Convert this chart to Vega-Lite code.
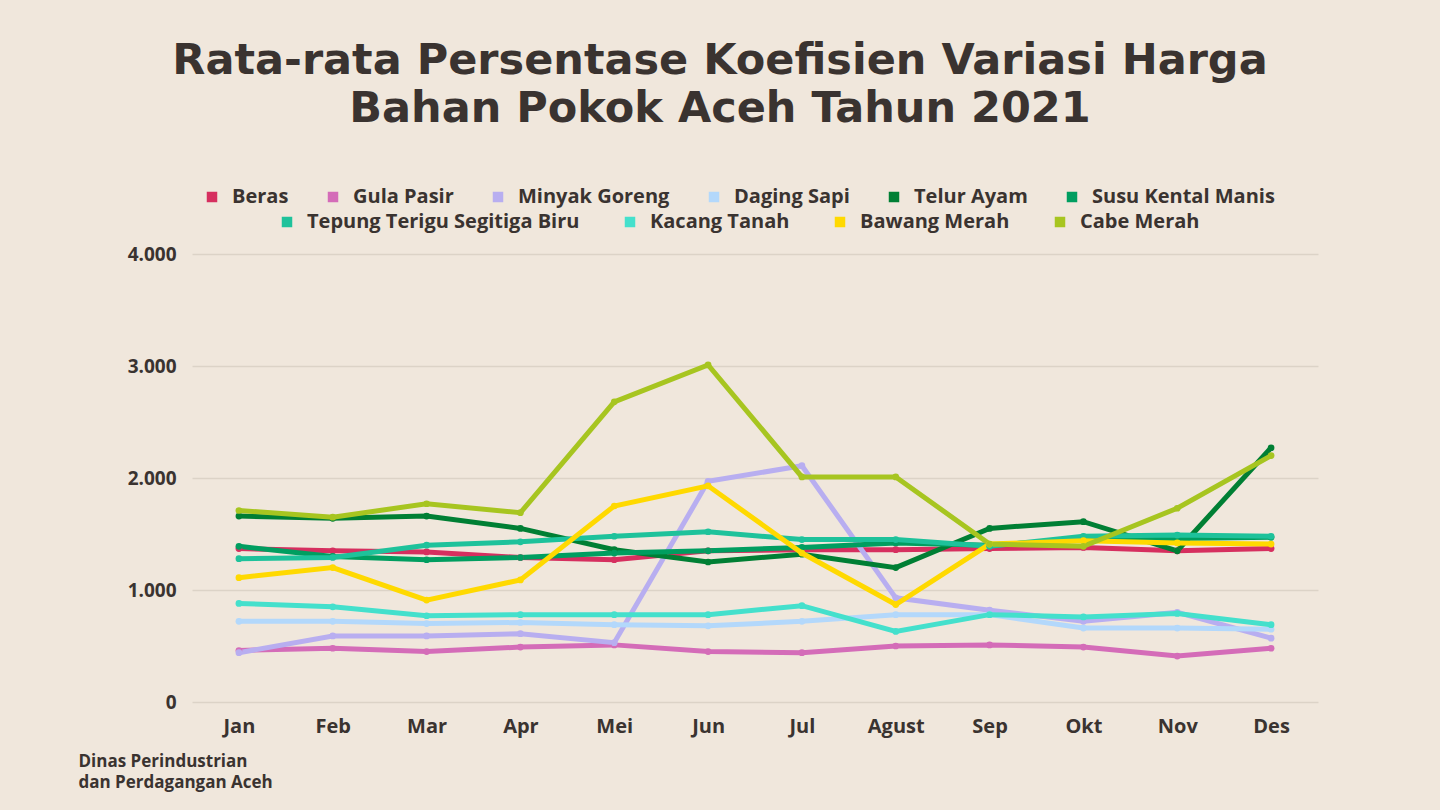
{
  "$schema": "https://vega.github.io/schema/vega-lite/v6.json",
  "width": 1126,
  "height": 448,
  "autosize": {"type": "none"},
  "padding": {"left": 192, "top": 254, "right": 122, "bottom": 108},
  "background": "#f0e7dc",
  "title": {
    "text": ["Rata-rata Persentase Koefisien Variasi Harga", "Bahan Pokok Aceh Tahun 2021"],
    "font": "DejaVu Sans",
    "fontSize": 43,
    "fontWeight": "bold",
    "color": "#3a3330",
    "lineHeight": 48,
    "anchor": "middle",
    "frame": "group",
    "dx": -35,
    "offset": 56
  },
  "datasets": {
    "a": [
      {"bulan": "Jan", "komoditas": "Beras", "nilai": 1.37},
      {"bulan": "Feb", "komoditas": "Beras", "nilai": 1.35},
      {"bulan": "Mar", "komoditas": "Beras", "nilai": 1.34},
      {"bulan": "Apr", "komoditas": "Beras", "nilai": 1.29},
      {"bulan": "Mei", "komoditas": "Beras", "nilai": 1.27},
      {"bulan": "Jun", "komoditas": "Beras", "nilai": 1.35},
      {"bulan": "Jul", "komoditas": "Beras", "nilai": 1.36},
      {"bulan": "Agust", "komoditas": "Beras", "nilai": 1.36},
      {"bulan": "Sep", "komoditas": "Beras", "nilai": 1.37},
      {"bulan": "Okt", "komoditas": "Beras", "nilai": 1.38},
      {"bulan": "Nov", "komoditas": "Beras", "nilai": 1.35},
      {"bulan": "Des", "komoditas": "Beras", "nilai": 1.37},
      {"bulan": "Jan", "komoditas": "Gula Pasir", "nilai": 0.46},
      {"bulan": "Feb", "komoditas": "Gula Pasir", "nilai": 0.48},
      {"bulan": "Mar", "komoditas": "Gula Pasir", "nilai": 0.45},
      {"bulan": "Apr", "komoditas": "Gula Pasir", "nilai": 0.49},
      {"bulan": "Mei", "komoditas": "Gula Pasir", "nilai": 0.51},
      {"bulan": "Jun", "komoditas": "Gula Pasir", "nilai": 0.45},
      {"bulan": "Jul", "komoditas": "Gula Pasir", "nilai": 0.44},
      {"bulan": "Agust", "komoditas": "Gula Pasir", "nilai": 0.5},
      {"bulan": "Sep", "komoditas": "Gula Pasir", "nilai": 0.51},
      {"bulan": "Okt", "komoditas": "Gula Pasir", "nilai": 0.49},
      {"bulan": "Nov", "komoditas": "Gula Pasir", "nilai": 0.41},
      {"bulan": "Des", "komoditas": "Gula Pasir", "nilai": 0.48},
      {"bulan": "Jan", "komoditas": "Minyak Goreng", "nilai": 0.44},
      {"bulan": "Feb", "komoditas": "Minyak Goreng", "nilai": 0.59},
      {"bulan": "Mar", "komoditas": "Minyak Goreng", "nilai": 0.59},
      {"bulan": "Apr", "komoditas": "Minyak Goreng", "nilai": 0.61},
      {"bulan": "Mei", "komoditas": "Minyak Goreng", "nilai": 0.53},
      {"bulan": "Jun", "komoditas": "Minyak Goreng", "nilai": 1.97},
      {"bulan": "Jul", "komoditas": "Minyak Goreng", "nilai": 2.11},
      {"bulan": "Agust", "komoditas": "Minyak Goreng", "nilai": 0.93},
      {"bulan": "Sep", "komoditas": "Minyak Goreng", "nilai": 0.82},
      {"bulan": "Okt", "komoditas": "Minyak Goreng", "nilai": 0.72},
      {"bulan": "Nov", "komoditas": "Minyak Goreng", "nilai": 0.8},
      {"bulan": "Des", "komoditas": "Minyak Goreng", "nilai": 0.57},
      {"bulan": "Jan", "komoditas": "Daging Sapi", "nilai": 0.72},
      {"bulan": "Feb", "komoditas": "Daging Sapi", "nilai": 0.72},
      {"bulan": "Mar", "komoditas": "Daging Sapi", "nilai": 0.7},
      {"bulan": "Apr", "komoditas": "Daging Sapi", "nilai": 0.71},
      {"bulan": "Mei", "komoditas": "Daging Sapi", "nilai": 0.69},
      {"bulan": "Jun", "komoditas": "Daging Sapi", "nilai": 0.68},
      {"bulan": "Jul", "komoditas": "Daging Sapi", "nilai": 0.72},
      {"bulan": "Agust", "komoditas": "Daging Sapi", "nilai": 0.78},
      {"bulan": "Sep", "komoditas": "Daging Sapi", "nilai": 0.78},
      {"bulan": "Okt", "komoditas": "Daging Sapi", "nilai": 0.66},
      {"bulan": "Nov", "komoditas": "Daging Sapi", "nilai": 0.66},
      {"bulan": "Des", "komoditas": "Daging Sapi", "nilai": 0.65},
      {"bulan": "Jan", "komoditas": "Telur Ayam", "nilai": 1.66},
      {"bulan": "Feb", "komoditas": "Telur Ayam", "nilai": 1.64},
      {"bulan": "Mar", "komoditas": "Telur Ayam", "nilai": 1.66},
      {"bulan": "Apr", "komoditas": "Telur Ayam", "nilai": 1.55},
      {"bulan": "Mei", "komoditas": "Telur Ayam", "nilai": 1.36},
      {"bulan": "Jun", "komoditas": "Telur Ayam", "nilai": 1.25},
      {"bulan": "Jul", "komoditas": "Telur Ayam", "nilai": 1.32},
      {"bulan": "Agust", "komoditas": "Telur Ayam", "nilai": 1.2},
      {"bulan": "Sep", "komoditas": "Telur Ayam", "nilai": 1.55},
      {"bulan": "Okt", "komoditas": "Telur Ayam", "nilai": 1.61},
      {"bulan": "Nov", "komoditas": "Telur Ayam", "nilai": 1.35},
      {"bulan": "Des", "komoditas": "Telur Ayam", "nilai": 2.27},
      {"bulan": "Jan", "komoditas": "Susu Kental Manis", "nilai": 1.39},
      {"bulan": "Feb", "komoditas": "Susu Kental Manis", "nilai": 1.3},
      {"bulan": "Mar", "komoditas": "Susu Kental Manis", "nilai": 1.27},
      {"bulan": "Apr", "komoditas": "Susu Kental Manis", "nilai": 1.29},
      {"bulan": "Mei", "komoditas": "Susu Kental Manis", "nilai": 1.33},
      {"bulan": "Jun", "komoditas": "Susu Kental Manis", "nilai": 1.35},
      {"bulan": "Jul", "komoditas": "Susu Kental Manis", "nilai": 1.38},
      {"bulan": "Agust", "komoditas": "Susu Kental Manis", "nilai": 1.42},
      {"bulan": "Sep", "komoditas": "Susu Kental Manis", "nilai": 1.4},
      {"bulan": "Okt", "komoditas": "Susu Kental Manis", "nilai": 1.45},
      {"bulan": "Nov", "komoditas": "Susu Kental Manis", "nilai": 1.46},
      {"bulan": "Des", "komoditas": "Susu Kental Manis", "nilai": 1.47}
    ],
    "b": [
      {"bulan": "Jan", "komoditas": "Tepung Terigu Segitiga Biru", "nilai": 1.28},
      {"bulan": "Feb", "komoditas": "Tepung Terigu Segitiga Biru", "nilai": 1.29},
      {"bulan": "Mar", "komoditas": "Tepung Terigu Segitiga Biru", "nilai": 1.4},
      {"bulan": "Apr", "komoditas": "Tepung Terigu Segitiga Biru", "nilai": 1.43},
      {"bulan": "Mei", "komoditas": "Tepung Terigu Segitiga Biru", "nilai": 1.48},
      {"bulan": "Jun", "komoditas": "Tepung Terigu Segitiga Biru", "nilai": 1.52},
      {"bulan": "Jul", "komoditas": "Tepung Terigu Segitiga Biru", "nilai": 1.45},
      {"bulan": "Agust", "komoditas": "Tepung Terigu Segitiga Biru", "nilai": 1.45},
      {"bulan": "Sep", "komoditas": "Tepung Terigu Segitiga Biru", "nilai": 1.39},
      {"bulan": "Okt", "komoditas": "Tepung Terigu Segitiga Biru", "nilai": 1.48},
      {"bulan": "Nov", "komoditas": "Tepung Terigu Segitiga Biru", "nilai": 1.49},
      {"bulan": "Des", "komoditas": "Tepung Terigu Segitiga Biru", "nilai": 1.48},
      {"bulan": "Jan", "komoditas": "Kacang Tanah", "nilai": 0.88},
      {"bulan": "Feb", "komoditas": "Kacang Tanah", "nilai": 0.85},
      {"bulan": "Mar", "komoditas": "Kacang Tanah", "nilai": 0.77},
      {"bulan": "Apr", "komoditas": "Kacang Tanah", "nilai": 0.78},
      {"bulan": "Mei", "komoditas": "Kacang Tanah", "nilai": 0.78},
      {"bulan": "Jun", "komoditas": "Kacang Tanah", "nilai": 0.78},
      {"bulan": "Jul", "komoditas": "Kacang Tanah", "nilai": 0.86},
      {"bulan": "Agust", "komoditas": "Kacang Tanah", "nilai": 0.63},
      {"bulan": "Sep", "komoditas": "Kacang Tanah", "nilai": 0.78},
      {"bulan": "Okt", "komoditas": "Kacang Tanah", "nilai": 0.76},
      {"bulan": "Nov", "komoditas": "Kacang Tanah", "nilai": 0.79},
      {"bulan": "Des", "komoditas": "Kacang Tanah", "nilai": 0.69},
      {"bulan": "Jan", "komoditas": "Bawang Merah", "nilai": 1.11},
      {"bulan": "Feb", "komoditas": "Bawang Merah", "nilai": 1.2},
      {"bulan": "Mar", "komoditas": "Bawang Merah", "nilai": 0.91},
      {"bulan": "Apr", "komoditas": "Bawang Merah", "nilai": 1.09},
      {"bulan": "Mei", "komoditas": "Bawang Merah", "nilai": 1.75},
      {"bulan": "Jun", "komoditas": "Bawang Merah", "nilai": 1.93},
      {"bulan": "Jul", "komoditas": "Bawang Merah", "nilai": 1.33},
      {"bulan": "Agust", "komoditas": "Bawang Merah", "nilai": 0.87},
      {"bulan": "Sep", "komoditas": "Bawang Merah", "nilai": 1.41},
      {"bulan": "Okt", "komoditas": "Bawang Merah", "nilai": 1.44},
      {"bulan": "Nov", "komoditas": "Bawang Merah", "nilai": 1.42},
      {"bulan": "Des", "komoditas": "Bawang Merah", "nilai": 1.41},
      {"bulan": "Jan", "komoditas": "Cabe Merah", "nilai": 1.71},
      {"bulan": "Feb", "komoditas": "Cabe Merah", "nilai": 1.65},
      {"bulan": "Mar", "komoditas": "Cabe Merah", "nilai": 1.77},
      {"bulan": "Apr", "komoditas": "Cabe Merah", "nilai": 1.69},
      {"bulan": "Mei", "komoditas": "Cabe Merah", "nilai": 2.68},
      {"bulan": "Jun", "komoditas": "Cabe Merah", "nilai": 3.01},
      {"bulan": "Jul", "komoditas": "Cabe Merah", "nilai": 2.01},
      {"bulan": "Agust", "komoditas": "Cabe Merah", "nilai": 2.01},
      {"bulan": "Sep", "komoditas": "Cabe Merah", "nilai": 1.41},
      {"bulan": "Okt", "komoditas": "Cabe Merah", "nilai": 1.39},
      {"bulan": "Nov", "komoditas": "Cabe Merah", "nilai": 1.73},
      {"bulan": "Des", "komoditas": "Cabe Merah", "nilai": 2.2}
    ]
  },
  "encoding": {
    "x": {
      "field": "bulan",
      "type": "ordinal",
      "sort": ["Jan", "Feb", "Mar", "Apr", "Mei", "Jun", "Jul", "Agust", "Sep", "Okt", "Nov", "Des"],
      "scale": {"padding": 0.5},
      "axis": {
        "labelAngle": 0,
        "labelFont": "Open Sans",
        "labelFontWeight": "bold",
        "labelFontSize": 20,
        "labelColor": "#3a3330",
        "labelPadding": 14,
        "ticks": false,
        "domain": false,
        "grid": false,
        "title": ["Dinas Perindustrian", "dan Perdagangan Aceh"],
        "titleFont": "Open Sans",
        "titleFontWeight": "bold",
        "titleFontSize": 17,
        "titleColor": "#3a3330",
        "titleAlign": "left",
        "titleAnchor": "start",
        "titleBaseline": "top",
        "titleX": -114,
        "titleY": 51,
        "titleLineHeight": 21
      }
    },
    "y": {
      "field": "nilai",
      "type": "quantitative",
      "scale": {"domain": [0, 4]},
      "axis": {
        "values": [0, 1, 2, 3, 4],
        "labelExpr": "datum.value == 0 ? '0' : format(datum.value, '.3f')",
        "labelFont": "Open Sans",
        "labelFontWeight": "bold",
        "labelFontSize": 19,
        "labelColor": "#3a3330",
        "labelPadding": 16,
        "ticks": false,
        "domain": false,
        "grid": true,
        "gridColor": "#dcd3c7",
        "gridWidth": 1.5,
        "title": null
      }
    }
  },
  "layer": [
    {
      "data": {"name": "a"},
      "mark": {"type": "line", "strokeWidth": 5, "point": {"filled": true, "size": 45}},
      "encoding": {
        "color": {
          "field": "komoditas",
          "type": "nominal",
          "sort": ["Beras", "Gula Pasir", "Minyak Goreng", "Daging Sapi", "Telur Ayam", "Susu Kental Manis"],
          "scale": {
            "domain": ["Beras", "Gula Pasir", "Minyak Goreng", "Daging Sapi", "Telur Ayam", "Susu Kental Manis"],
            "range": ["#d62f5f", "#d46cb8", "#b8aef0", "#b3d8fb", "#007f34", "#009e60"]
          },
          "legend": {
            "orient": "none",
            "direction": "horizontal",
            "legendX": 10,
            "legendY": -67,
            "title": null,
            "symbolType": "square",
            "symbolSize": 110,
            "symbolStrokeWidth": 0,
            "labelFont": "Open Sans",
            "labelFontWeight": "bold",
            "labelFontSize": 20,
            "labelLimit": 500,
            "labelColor": "#3a3330",
            "labelOffset": 10,
            "columnPadding": 34
          }
        }
      }
    },
    {
      "data": {"name": "b"},
      "mark": {"type": "line", "strokeWidth": 5, "point": {"filled": true, "size": 45}},
      "encoding": {
        "color": {
          "field": "komoditas",
          "type": "nominal",
          "sort": ["Tepung Terigu Segitiga Biru", "Kacang Tanah", "Bawang Merah", "Cabe Merah"],
          "scale": {
            "domain": ["Tepung Terigu Segitiga Biru", "Kacang Tanah", "Bawang Merah", "Cabe Merah"],
            "range": ["#1ec29b", "#44e0cc", "#ffd900", "#a7c520"]
          },
          "legend": {
            "orient": "none",
            "direction": "horizontal",
            "legendX": 85,
            "legendY": -42,
            "title": null,
            "symbolType": "square",
            "symbolSize": 110,
            "symbolStrokeWidth": 0,
            "labelFont": "Open Sans",
            "labelFontWeight": "bold",
            "labelFontSize": 20,
            "labelLimit": 500,
            "labelColor": "#3a3330",
            "labelOffset": 10,
            "columnPadding": 40
          }
        }
      }
    }
  ],
  "resolve": {"scale": {"color": "independent"}},
  "config": {"view": {"stroke": null}}
}
